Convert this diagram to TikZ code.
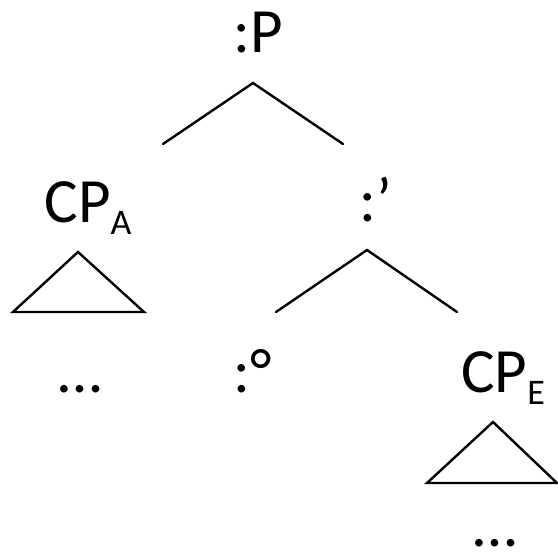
\documentclass[tikz,border=0pt]{standalone}
\usepackage{fontspec}
\setmainfont{Carlito}
\newcommand\lowsub[1]{\raisebox{-12pt}{\fontsize{36}{40}\selectfont #1}}
\begin{document}
\begin{tikzpicture}[x=1pt,y=-1pt,
  lbl/.style={inner sep=0pt, anchor=base, font=\fontsize{63}{70}\selectfont},
  edge/.style={line width=2.4pt, line cap=round},
  tri/.style={line width=2.4pt, line join=miter}]
\useasboundingbox (0,0) rectangle (558,553);

% labels
\node[lbl] (P)     at (258,53)  {:P};
\node[lbl] (CPA)   at (88,223)  {CP\lowsub{A}};
\node[lbl] (Cbar)  at (376,222) {:’};
\node[lbl] (Cdeg)  at (253,393) {:°};
\node[lbl] (CPE)   at (503,393) {CP\lowsub{E}};
\node[lbl] (dotsA) at (80,393)  {…};
\node[lbl] (dotsE) at (495,547) {…};

% branch points
\coordinate (Ptop) at (253,83);
\coordinate (Pl)   at (163,144);
\coordinate (Pr)   at (343,144);
\coordinate (Ctop) at (367,250);
\coordinate (Cl)   at (276,312);
\coordinate (Cr)   at (457,312);

\draw[edge] (Pl) -- (Ptop) -- (Pr);
\draw[edge] (Cl) -- (Ctop) -- (Cr);

% triangles for unexpanded constituents
\coordinate (TAtop) at (78,252);
\coordinate (TAl)   at (13,312);
\coordinate (TAr)   at (144,312);
\coordinate (TEtop) at (493,422);
\coordinate (TEl)   at (427,483);
\coordinate (TEr)   at (557,483);
\draw[tri] (TAtop) -- (TAl) -- (TAr) -- cycle;
\draw[tri] (TEtop) -- (TEl) -- (TEr) -- cycle;
\end{tikzpicture}
\end{document}
